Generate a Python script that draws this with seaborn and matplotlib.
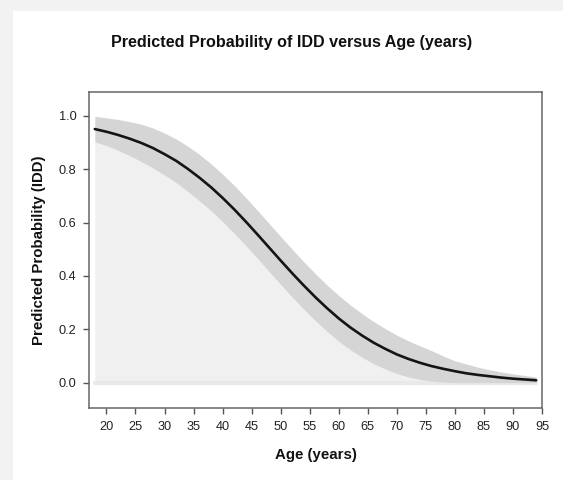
import matplotlib
matplotlib.use("Agg")
import matplotlib.pyplot as plt
import seaborn as sns
import pandas as pd
from matplotlib.patches import Rectangle

# ---- data ----
age = [18, 20, 22, 24, 26, 28, 30, 32, 34, 36, 38, 40, 42, 44, 46, 48, 50,
       52, 54, 56, 58, 60, 62, 64, 66, 68, 70, 72, 74, 76, 78, 80, 82, 84,
       86, 88, 90, 92, 94]
prob = [0.951, 0.941, 0.929, 0.915, 0.899, 0.880, 0.857, 0.832, 0.802, 0.769,
        0.733, 0.693, 0.650, 0.604, 0.556, 0.507, 0.458, 0.410, 0.364, 0.320,
        0.279, 0.241, 0.207, 0.177, 0.150, 0.127, 0.106, 0.089, 0.0745, 0.062,
        0.052, 0.043, 0.035, 0.029, 0.024, 0.019, 0.015, 0.012, 0.009]
upper = [0.999, 0.993, 0.987, 0.979, 0.969, 0.955, 0.936, 0.914, 0.887, 0.856,
         0.821, 0.782, 0.740, 0.694, 0.646, 0.597, 0.548, 0.500, 0.453, 0.408,
         0.366, 0.327, 0.291, 0.259, 0.229, 0.203, 0.178, 0.157, 0.138, 0.120,
         0.100, 0.082, 0.070, 0.058, 0.048, 0.040, 0.033, 0.027, 0.021]
lower = [0.903, 0.889, 0.871, 0.851, 0.829, 0.805, 0.778, 0.750, 0.717, 0.682,
         0.645, 0.604, 0.560, 0.514, 0.466, 0.417, 0.368, 0.320, 0.275, 0.232,
         0.192, 0.155, 0.123, 0.095, 0.071, 0.051, 0.034, 0.021, 0.012, 0.006,
         0.002, 0.0, 0.0, 0.0, 0.0, 0.0, 0.0, 0.0, 0.0]
zeros = [0.0] * len(age)
xticks = [20, 25, 30, 35, 40, 45, 50, 55, 60, 65, 70, 75, 80, 85, 90, 95]
yticks = [0.0, 0.2, 0.4, 0.6, 0.8, 1.0]

title = "Predicted Probability of IDD versus Age (years)"
xlabel = "Age (years)"
ylabel = "Predicted Probability (IDD)"

df = pd.DataFrame({"age": age, "prob": prob, "upper": upper, "lower": lower, "zero": zeros})

sns.set_theme(style="white")
plt.rcParams["font.family"] = ["Liberation Sans", "DejaVu Sans"]

fig = plt.figure(figsize=(5.63, 4.80), dpi=100)
fig.patch.set_facecolor("#f2f2f2")
panel = Rectangle((13 / 563, 0), 1 - 13 / 563, 1 - 11 / 480,
                  transform=fig.transFigure, facecolor="white",
                  edgecolor="none", zorder=-10)
fig.add_artist(panel)

ax = fig.add_axes([89 / 563, 1 - 408 / 480, (542 - 89) / 563, (408 - 92) / 480])
ax.set_zorder(5)
ax.set_facecolor("white")

# light area under the band
ax.fill_between(df["age"], df["zero"], df["lower"], color="#f0f0f0", lw=0, zorder=1)
sns.lineplot(data=df, x="age", y="zero", ax=ax, color="#e9e9e9", lw=3, zorder=1.5)
# confidence band
ax.fill_between(df["age"], df["lower"], df["upper"], color="#d5d5d5", lw=0, zorder=2)
# fitted curve
sns.lineplot(data=df, x="age", y="prob", ax=ax, color="#141414", lw=1.9, zorder=3)

ax.set_xlim(17, 95)
ax.set_ylim(-0.095, 1.09)
ax.set_xticks(xticks)
ax.set_yticks(yticks)
ax.set_yticklabels([f"{v:.1f}" for v in yticks])
ax.tick_params(axis="both", which="both", direction="out", length=4, width=1,
               color="#555555", labelsize=9.2, labelcolor="#222222", pad=5,
               bottom=True, left=True, top=False, right=False)

for s in ax.spines.values():
    s.set_visible(True)
    s.set_color("#666666")
    s.set_linewidth(1.1)

ax.set_xlabel(xlabel, fontsize=10.8, fontweight="bold", color="#111111", labelpad=11)
ax.set_ylabel(ylabel, fontsize=10.8, fontweight="bold", color="#111111", labelpad=9)

fig.text(292 / 563, 1 - 42 / 480, title, ha="center", va="center",
         fontsize=11.6, fontweight="bold", color="#111111")

fig.savefig("out.png", dpi=100, facecolor=fig.get_facecolor())
